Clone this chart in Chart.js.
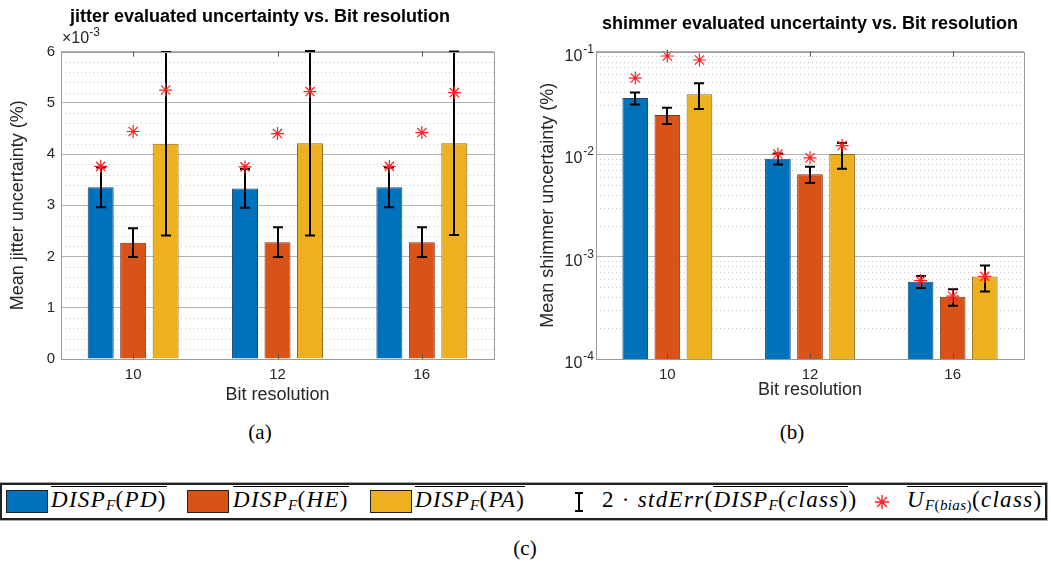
<!DOCTYPE html>
<html>
<head>
<meta charset="utf-8">
<script src="https://cdn.jsdelivr.net/npm/chart.js@4.4.0/dist/chart.umd.min.js"></script>
<style>
  body { margin: 0; background: #fff; width: 1051px; height: 568px; position: relative; overflow: hidden; }
  canvas { position: absolute; top: 0; }
  #jitter { left: 0; }
  #shimmer { left: 520px; }
  .cap { position: absolute; font-family: "Liberation Serif", "DejaVu Serif", serif; font-size: 21px; color: #000; transform: translateX(-50%); }
  #legend { position: absolute; left: 0; top: 483px; width: 1043px; height: 33px; border: 2px solid #222; box-shadow: 0 0 0 1px #aaa; }
  .sw { position: absolute; top: 5px; width: 40px; height: 21px; border: 1px solid #222; }
  .m { position: absolute; top: 1px; font-family: "Liberation Serif", "DejaVu Serif", serif; font-size: 23px; white-space: nowrap; line-height: 28px; letter-spacing: 1.3px; }
  .m i { font-style: italic; }
  .ov { border-top: 1px solid #000; padding-top: 0; display: inline-block; line-height: 25px; }
  .m sub { font-size: 15px; vertical-align: -3px; letter-spacing: 0.4px; }
  .eb { position: absolute; left: 573px; top: 7px; width: 8px; height: 20px; }
  .eb div { position: absolute; background: #000; }
</style>
</head>
<body>
<canvas id="jitter" width="520" height="410"></canvas>
<canvas id="shimmer" width="531" height="410"></canvas>
<div class="cap" style="left:260px;top:420px">(a)</div>
<div class="cap" style="left:792px;top:420px">(b)</div>

<div id="legend">
  <div class="sw" style="left:4px;background:#0072BD"></div>
  <div class="m" style="left:49px"><span class="ov"><i>DISP</i><sub><i>F</i></sub>(<i>PD</i>)</span></div>
  <div class="sw" style="left:185px;background:#D95319"></div>
  <div class="m" style="left:231px"><span class="ov"><i>DISP</i><sub><i>F</i></sub>(<i>HE</i>)</span></div>
  <div class="sw" style="left:368px;background:#EDB120"></div>
  <div class="m" style="left:413px"><span class="ov"><i>DISP</i><sub><i>F</i></sub>(<i>PA</i>)</span></div>
  <div class="eb">
    <div style="left:3px;top:0;width:2px;height:20px"></div>
    <div style="left:0;top:0;width:8px;height:2px"></div>
    <div style="left:0;top:18px;width:8px;height:2px"></div>
  </div>
  <div class="m" style="left:600px">2 · <i>stdErr</i>(<span class="ov"><i>DISP</i><sub><i>F</i></sub>(<i>class</i>)</span>)</div>
  <canvas id="legStar" width="18" height="18" style="left:871px;top:8px"></canvas>
  <div class="m" style="left:905px"><span class="ov"><i>U</i><sub><i>F</i>(<i>bias</i>)</sub>(<i>class</i>)</span></div>
</div>
<div class="cap" style="left:525px;top:536px">(c)</div>

<script>
// categories and classes
const categories = ['10', '12', '16'];
const classNames = ['PD', 'HE', 'PA'];
const classColors = ['#0072BD', '#D95319', '#EDB120'];
const classEdges = ['#17456b', '#7a3212', '#8a6a16'];

// jitter, values in units of 1e-3 %
const jitterPD = [3.35, 3.33, 3.35];
const jitterHE = [2.27, 2.28, 2.28];
const jitterPA = [4.20, 4.21, 4.21];
// half length of the 2*stdErr bars
const jitterErrPD = [0.39, 0.38, 0.39];
const jitterErrHE = [0.28, 0.29, 0.29];
const jitterErrPA = [1.79, 1.80, 1.79];
// U_F(bias) markers
const jitterBiasPD = [3.76, 3.75, 3.76];
const jitterBiasHE = [4.44, 4.40, 4.42];
const jitterBiasPA = [5.25, 5.22, 5.20];
const jitterTicks = [0, 1, 2, 3, 4, 5, 6];

// shimmer, values in %
const shimmerPD = [0.0352, 0.0090, 0.000569];
const shimmerHE = [0.0240, 0.00637, 0.000405];
const shimmerPA = [0.0383, 0.0100, 0.000637];
const shimmerErrPD = [0.0048, 0.0011, 0.000077];
const shimmerErrHE = [0.0043, 0.00115, 0.000075];
const shimmerErrPA = [0.0108, 0.0028, 0.00018];
const shimmerBiasPD = [0.0552, 0.0100, 0.000582];
const shimmerBiasHE = [0.0906, 0.0092, 0.00041];
const shimmerBiasPA = [0.0828, 0.0121, 0.00064];
const shimmerTickExps = [-4, -3, -2, -1];

const FONT = '"Liberation Sans", Arial, Helvetica, sans-serif';
const AXIS_COLOR = '#262626';

function drawStar(ctx, x, y, r) {
    ctx.beginPath();
    for (let k = 0; k < 4; k++) {
        const a = k * Math.PI / 4;
        ctx.moveTo(x - r * Math.cos(a), y - r * Math.sin(a));
        ctx.lineTo(x + r * Math.cos(a), y + r * Math.sin(a));
    }
    ctx.stroke();
}

// error bars, bias markers, dotted minor grid and the axes box
function overlay(errs, bias, minor, extra) {
    return {
        id: 'overlay',
        beforeDatasetsDraw(chart) {
            const { ctx, chartArea: a, scales: { y } } = chart;
            ctx.save();
            ctx.strokeStyle = '#c8c8c8';
            ctx.lineWidth = 1;
            ctx.setLineDash([1, 3]);
            minor.forEach(v => {
                const py = Math.round(y.getPixelForValue(v)) + 0.5;
                ctx.beginPath();
                ctx.moveTo(a.left, py);
                ctx.lineTo(a.right, py);
                ctx.stroke();
            });
            ctx.restore();
        },
        afterDatasetsDraw(chart) {
            const { ctx, chartArea: a, scales: { x, y } } = chart;
            ctx.save();
            ctx.strokeStyle = '#000';
            ctx.lineWidth = 2;
            chart.data.datasets.forEach((ds, i) => {
                chart.getDatasetMeta(i).data.forEach((bar, j) => {
                    const v = ds.data[j], e = errs[i][j];
                    const px = Math.round(bar.x);
                    const top = y.getPixelForValue(v + e);
                    const bot = y.getPixelForValue(v - e);
                    ctx.beginPath();
                    ctx.moveTo(px, top); ctx.lineTo(px, bot);
                    ctx.moveTo(px - 5, top); ctx.lineTo(px + 5, top);
                    ctx.moveTo(px - 5, bot); ctx.lineTo(px + 5, bot);
                    ctx.stroke();
                });
            });
            ctx.strokeStyle = '#ff2020';
            ctx.lineWidth = 1.2;
            chart.data.datasets.forEach((ds, i) => {
                chart.getDatasetMeta(i).data.forEach((bar, j) => {
                    drawStar(ctx, bar.x, y.getPixelForValue(bias[i][j]), 6.5);
                });
            });
            // box
            ctx.strokeStyle = '#9a9a9a';
            ctx.lineWidth = 1;
            ctx.strokeRect(Math.round(a.left) + 0.5, Math.round(a.top) + 0.5,
                Math.round(a.right - a.left), Math.round(a.bottom - a.top));
            // inward category ticks top and bottom
            ctx.strokeStyle = '#555';
            x.ticks.forEach((t, k) => {
                const px = Math.round(x.getPixelForTick(k)) + 0.5;
                ctx.beginPath();
                ctx.moveTo(px, a.bottom); ctx.lineTo(px, a.bottom - 5);
                ctx.moveTo(px, a.top); ctx.lineTo(px, a.top + 5);
                ctx.stroke();
            });
            ctx.restore();
        },
        afterDraw(chart) {
            if (extra) extra(chart);
        }
    };
}

function barDatasets(series) {
    return series.map((d, i) => ({
        label: classNames[i],
        data: d,
        backgroundColor: classColors[i],
        borderColor: classEdges[i],
        borderWidth: 1,
        categoryPercentage: 0.675,
        barPercentage: 0.8
    }));
}

function baseOptions(title, yTitle, titlePad, yTitlePad, xTitlePad, yWidth, padRight) {
    return {
        responsive: false,
        animation: false,
        layout: { padding: { left: 0, right: padRight, top: 0, bottom: 0 } },
        plugins: {
            legend: { display: false },
            tooltip: { enabled: false },
            title: {
                display: true,
                text: title,
                color: '#000',
                font: { family: FONT, size: 18, weight: 'bold' },
                padding: titlePad
            }
        },
        scales: {
            x: {
                grid: { display: false, drawTicks: false },
                border: { display: false },
                ticks: { color: AXIS_COLOR, font: { family: FONT, size: 15 }, padding: 7 },
                title: {
                    display: true, text: 'Bit resolution', color: AXIS_COLOR,
                    font: { family: FONT, size: 18 }, padding: { top: 0, bottom: xTitlePad }
                },
                afterFit(s) { s.height = 51; }
            },
            y: {
                border: { display: false },
                grid: { color: '#b4b4b4', lineWidth: 1, drawTicks: false },
                title: {
                    display: true, text: yTitle, color: AXIS_COLOR,
                    font: { family: FONT, size: 18 }, padding: { top: yTitlePad, bottom: 0 }
                },
                afterFit(s) { s.width = yWidth; }
            }
        }
    };
}

// --- jitter chart ---
const jitterMinor = [];
for (let i = 1; i < 30; i++) if (i % 5) jitterMinor.push(i * 0.2);

const jOpts = baseOptions('jitter evaluated uncertainty vs. Bit resolution',
    'Mean jitter uncertainty (%)', { top: 6, bottom: 24 }, 7, 4, 61, 0);
jOpts.plugins.title.fullSize = true;
Object.assign(jOpts.scales.y, {
    min: 0, max: 6,
    ticks: { stepSize: 1, color: AXIS_COLOR, font: { family: FONT, size: 15 }, padding: 6 },
    afterBuildTicks(s) { s.ticks = jitterTicks.map(v => ({ value: v })); }
});
// empty right-hand axis keeps the right margin without shifting the title
jOpts.scales.yRight = {
    position: 'right', axis: 'y',
    grid: { display: false, drawTicks: false },
    border: { display: false },
    ticks: { display: false },
    afterFit(s) { s.width = 26; }
};

new Chart(document.getElementById('jitter'), {
    type: 'bar',
    data: { labels: categories, datasets: barDatasets([jitterPD, jitterHE, jitterPA]) },
    options: jOpts,
    plugins: [overlay(
        [jitterErrPD, jitterErrHE, jitterErrPA],
        [jitterBiasPD, jitterBiasHE, jitterBiasPA],
        jitterMinor,
        chart => {
            const { ctx, chartArea: a } = chart;
            ctx.save();
            ctx.fillStyle = AXIS_COLOR;
            ctx.textBaseline = 'alphabetic';
            ctx.font = '16px ' + FONT;
            ctx.fillText('\u00d710', a.left + 1, a.top - 9);
            const w = ctx.measureText('\u00d710').width;
            ctx.font = '12px ' + FONT;
            ctx.fillText('-3', a.left + 1 + w, a.top - 16);
            ctx.restore();
        })]
});

// --- shimmer chart ---
const shimmerMinor = [];
[-4, -3, -2].forEach(d => { for (let m = 2; m <= 9; m++) shimmerMinor.push(m * Math.pow(10, d)); });

const sOpts = baseOptions('shimmer evaluated uncertainty vs. Bit resolution',
    'Mean shimmer uncertainty (%)', { top: 13, bottom: 17 }, 17, 9, 76, 27);
sOpts.plugins.title.fullSize = false;
Object.assign(sOpts.scales.y, {
    type: 'logarithmic',
    min: 1e-4, max: 1e-1,
    ticks: { display: false },
    afterBuildTicks(s) { s.ticks = shimmerTickExps.map(e => ({ value: Math.pow(10, e) })); }
});

new Chart(document.getElementById('shimmer'), {
    type: 'bar',
    data: { labels: categories, datasets: barDatasets([shimmerPD, shimmerHE, shimmerPA]) },
    options: sOpts,
    plugins: [overlay(
        [shimmerErrPD, shimmerErrHE, shimmerErrPA],
        [shimmerBiasPD, shimmerBiasHE, shimmerBiasPA],
        shimmerMinor,
        chart => {
            const { ctx, chartArea: a, scales: { y } } = chart;
            ctx.save();
            ctx.fillStyle = AXIS_COLOR;
            ctx.textAlign = 'right';
            ctx.textBaseline = 'alphabetic';
            shimmerTickExps.forEach(e => {
                const py = y.getPixelForValue(Math.pow(10, e));
                const xr = a.left - 2;
                ctx.font = '12px ' + FONT;
                const sup = String(e);
                ctx.fillText(sup, xr, py + 1);
                const w = ctx.measureText(sup).width;
                ctx.font = '16px ' + FONT;
                ctx.fillText('10', xr - w - 1, py + 9);
            });
            ctx.restore();
        })]
});

// legend marker
const lc = document.getElementById('legStar').getContext('2d');
lc.strokeStyle = '#ff2020';
lc.lineWidth = 1.4;
drawStar(lc, 9, 9, 7);
</script>
</body>
</html>
